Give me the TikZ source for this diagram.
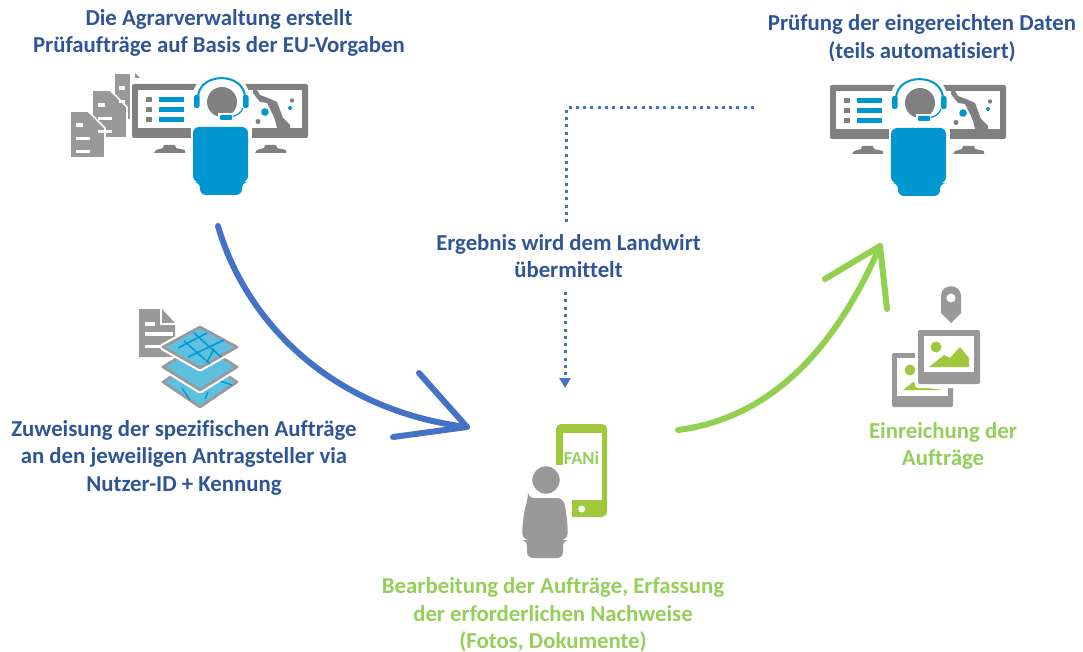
\documentclass[tikz,border=0pt]{standalone}
\usepackage{fontspec}
\setmainfont[Ligatures=NoCommon]{Carlito}
\usetikzlibrary{arrows.meta}
\definecolor{tblue}{HTML}{2F5597}
\definecolor{tgreen}{HTML}{94CF5A}
\definecolor{arrblue}{HTML}{4472C4}
\definecolor{arrgreen}{HTML}{92D050}
\definecolor{gr}{HTML}{808080}
\definecolor{lgr}{HTML}{999999}
\definecolor{cy}{HTML}{0097D0}
\definecolor{mapc}{HTML}{5FBFDF}
\definecolor{leaf}{HTML}{A0C83C}
\tikzset{
  lab/.style={font=\bfseries\fontsize{22.8}{27.5}\selectfont,align=center,inner sep=0pt},
  labblue/.style={lab,text=tblue},
  labgreen/.style={lab,text=tgreen},
  bigarrow/.style={line width=6pt,line cap=round,line join=round},
  dotline/.style={draw=arrblue,line width=3pt,dash pattern=on 3pt off 4.3pt},
  sheet/.style={fill=lgr,draw=white,line width=1.6pt},
  maplayer/.style={draw=lgr,line width=2.6pt,line join=round,fill=mapc},
  maphalo/.style={draw=white,line width=7pt,line join=round,fill=white},
}
\newcommand{\agent}{%
  \fill[gr,rounded corners=2pt] (132,84) rectangle (308,138);
  \fill[white] (138,90) rectangle (302,128);
  % list
  \fill[gr] (146,97) rectangle (152,102);
  \fill[gr] (146,107) rectangle (152,112);
  \fill[gr] (146,117) rectangle (152,122);
  \fill[cy] (159,97) rectangle (184,102);
  \fill[cy] (159,107) rectangle (184,112);
  \fill[cy] (159,117) rectangle (184,122);
  % map
  \fill[gr] (257,90) -- (260,95) -- (268,98) -- (277,102) -- (280,110) -- (283,118) -- (290,125) -- (290,128) -- (277,128) -- (275,120) -- (273,115) -- (267,103) -- (260,102) -- (253,93) -- (253,90) -- cycle;
  \fill[gr] (292,100.5) circle (2.2);
  \fill[cy] (290,108) circle (2);
  \fill[cy] (265,112) circle (3.8);
  \fill[gr] (258,121.5) circle (2.5);
  % stands
  \fill[gr] (154,153) -- (185,153) -- (185,150) -- (176,148) -- (175,145) -- (164,145) -- (163,148) -- (156,150) -- cycle;
  \fill[gr] (255,153) -- (286,153) -- (286,150) -- (277,148) -- (276,145) -- (265,145) -- (264,148) -- (257,150) -- cycle;
  % white halo
  \fill[white] (221,100) circle (29);
  \fill[white] (191,120) rectangle (252,140);
  % head
  \fill[gr] (222,102) circle (15);
  % headset
  \draw[white,line width=3pt] (228,118) -- (246,106);
  \draw[cy,line width=2pt] (198,98) .. controls (198,71.5) and (245,71.5) .. (245,98);
  \fill[cy,rounded corners=2pt] (194,95) rectangle (199.5,108);
  \fill[cy,rounded corners=2pt] (243,95) rectangle (248.5,108);
  \draw[cy,line width=1.2pt] (243,108) .. controls (241,113) and (237,116) .. (230,117);
  \fill[white] (218,113.5) rectangle (233,121);
  \fill[cy,rounded corners=1pt] (220,115) rectangle (232,120);
  % body
  \fill[cy,rounded corners=6pt] (193,127) -- (248,127) -- (248,182) -- (242,182) -- (242,195) -- (200,195) -- (200,182) -- (193,182) -- cycle;
}
\begin{document}
\begin{tikzpicture}[x=1pt,y=-1pt]
\useasboundingbox (0,0) rectangle (1083,652);
% texts
\node[labblue] (t1) at (219,33) {Die Agrarverwaltung erstellt\\Prüfaufträge auf Basis der EU-Vorgaben};
\node[labblue] (t2) at (922,38) {Prüfung der eingereichten Daten\\(teils automatisiert)};
\node[labblue] (t3) at (568.5,256) {Ergebnis wird dem Landwirt\\übermittelt};
\node[labblue] (t4) at (184,457.5) {Zuweisung der spezifischen Aufträge\\an den jeweiligen Antragsteller via\\Nutzer-ID + Kennung};
\node[labgreen] (t5) at (943,446) {Einreichung der\\Aufträge};
\node[labgreen] (t6) at (553,614.8) {Bearbeitung der Aufträge, Erfassung\\der erforderlichen Nachweise\\(Fotos, Dokumente)};
% documents left
\fill[lgr] (135,73) -- (140,78) -- (135,78) -- cycle;
\path[sheet] (114,73) -- (131,73) -- (131,120) -- (114,120) -- cycle;
\path[sheet] (92,90) -- (110,90) -- (127,107) -- (127,138) -- (92,138) -- cycle;
\path[sheet] (70,111) -- (88,111) -- (105,128) -- (105,158) -- (70,158) -- cycle;
\fill[white] (119,86) rectangle (125,90);
\fill[white] (119,100) rectangle (125,103);
\fill[white] (98,103) rectangle (105,107);
\fill[white] (98,117) rectangle (112,120);
\fill[white] (98,130) rectangle (112,133);
\fill[white] (76,123) rectangle (83,127);
\fill[white] (76,137) rectangle (90,140);
\fill[white] (76,150) rectangle (90,153);
\agent
\begin{scope}[shift={(698,1)}]
\agent
\end{scope}
% layered map: document
\fill[lgr] (139,309) -- (162,309) -- (175,323) -- (175,357) -- (139,357) -- cycle;
\draw[white,line width=1.2pt] (161,309) -- (161,324) -- (175,324);
\fill[white] (145,322) rectangle (155,326);
\fill[white] (145,332) rectangle (173,336);
\fill[white] (145,345) rectangle (163,348);
% layered map: layers
\path[maphalo] (200,357) -- (237,382) -- (200,407) -- (163,382) -- cycle;
\path[maplayer] (200,357) -- (237,382) -- (200,407) -- (163,382) -- cycle;
\draw[cy,line width=1.3pt] (182,388) -- (190,400) (208,392) -- (205,399) (220,381) -- (232,385);
\path[maphalo] (200,344) -- (237,367) -- (200,390) -- (163,367) -- cycle;
\path[maplayer] (200,344) -- (237,367) -- (200,390) -- (163,367) -- cycle;
\path[maphalo] (200,327) -- (237,347) -- (200,368) -- (163,347) -- cycle;
\path[maplayer] (200,327) -- (237,347) -- (200,368) -- (163,347) -- cycle;
\draw[cy,line width=1.5pt] (178,348) -- (207,333) (188,357) -- (224,340) (194,333) -- (221,357) (184,341) -- (210,364) (214,349) -- (207,362);
% big arrows
\coordinate (ba0) at (218,226);
\coordinate (ba1) at (467,427);
\coordinate (bb1) at (419,373);
\coordinate (bb2) at (393,437);
\draw[arrblue,bigarrow] (ba0) .. controls (245,320) and (330,410) .. (ba1);
\draw[arrblue,bigarrow] (bb1) -- (ba1) -- (bb2);
\coordinate (ga0) at (678,430);
\coordinate (ga1) at (880,246);
\coordinate (gb1) at (825,279);
\coordinate (gb2) at (887,309);
\draw[arrgreen,bigarrow] (ga0) .. controls (770,418) and (835,350) .. (ga1);
\draw[arrgreen,bigarrow] (gb1) -- (ga1) -- (gb2);
% dotted lines
\coordinate (d0) at (754,108);
\coordinate (d1) at (566,108);
\coordinate (d2) at (566,222);
\coordinate (d3) at (565,292);
\coordinate (d4) at (565,388);
\draw[dotline] (d0) -- (d1) -- (d2);
\draw[dotline,-{Triangle[length=10pt,width=11pt]}] (d3) -- (d4);
% phone
\fill[leaf,rounded corners=5pt] (556,424) rectangle (607,517);
\fill[white] (563,433) rectangle (602,500);
\fill[white] (555,465) rectangle (572,518);
\fill[white] (581.7,509) circle (3.5);
\node[font=\bfseries\fontsize{18.5}{18.5}\selectfont,text=tgreen,inner sep=0pt] (fani) at (581.5,458) {FANi};
% person
\fill[white] (546,480) circle (15.5);
\fill[lgr] (546,480) circle (13.7);
\fill[lgr,rounded corners=6pt] (528,498) -- (563,498) .. controls (567,515) and (568,530) .. (567,540) -- (563,540) -- (563,558) -- (527,558) -- (527,540) -- (523,540) .. controls (522,530) and (523,515) .. (528,498) -- cycle;
% pin
\fill[lgr] (941,296) .. controls (941,283) and (961,283) .. (961,296) -- (961,313) -- (951,323) -- (941,313) -- cycle;
\fill[white] (951,298) circle (4.5);
% photos
\fill[lgr,rounded corners=2pt] (892,353) rectangle (953,407);
\fill[white] (897,358) rectangle (948,396);
\fill[leaf] (910,370) circle (5.5);
\fill[leaf] (903,390) -- (913,382) -- (920,387) -- (943,390) -- cycle;
\fill[white,rounded corners=3pt] (915,327) rectangle (983,388);
\fill[lgr,rounded corners=2pt] (918,330) rectangle (980,384);
\fill[white] (924,336) rectangle (974,372);
\fill[leaf] (936,347) circle (5.5);
\fill[leaf] (929,367) -- (944,355) -- (950,358) -- (960,347) -- (969,358) -- (969,367) -- cycle;
\end{tikzpicture}
\end{document}
